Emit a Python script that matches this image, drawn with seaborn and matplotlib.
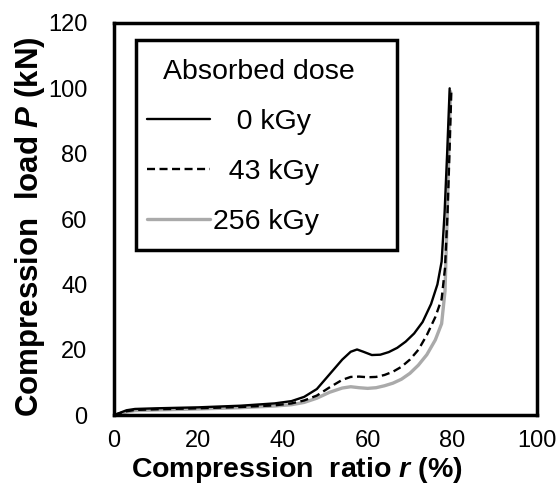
import numpy as np
import pandas as pd
import matplotlib
matplotlib.use('Agg')
import matplotlib.pyplot as plt
from matplotlib.patches import Rectangle
import seaborn as sns

## Data ##
# 0 kGy
r_0 = [0, 1, 3, 5, 10, 20, 30, 38, 42, 45, 48, 51, 54, 56, 57.5, 59, 61, 63, 65, 67,
       69, 71, 73, 75, 76.5, 77.5, 78.2, 78.8, 79.4]
p_0 = [0, 0.5, 1.5, 1.9, 2.1, 2.4, 2.9, 3.6, 4.3, 5.6, 8.0, 12.5, 17.0, 19.4, 20.1, 19.4,
       18.4, 18.5, 19.3, 20.6, 22.5, 25.0, 28.5, 34.0, 40.0, 47.0, 62.0, 80.0, 100.0]
# 43 kGy
r_43 = [0, 1, 3, 5, 10, 20, 30, 38, 42, 45, 48, 51, 54, 56, 58, 60, 62, 64, 66, 68,
        70, 72, 74, 76, 77.5, 78.3, 78.9, 79.4, 79.8]
p_43 = [0, 0.4, 1.2, 1.6, 1.8, 2.1, 2.5, 3.0, 3.6, 4.5, 6.0, 8.5, 10.8, 11.7, 11.8, 11.6,
        11.7, 12.3, 13.3, 14.8, 17.0, 20.0, 24.5, 30.0, 35.5, 45.0, 62.0, 82.0, 99.5]
# 256 kGy
r_256 = [0, 1, 3, 5, 10, 20, 30, 38, 42, 45, 48, 51, 54, 56, 58, 60, 62, 64, 66, 68,
         70, 72, 74, 76, 77.5, 78.3, 78.8, 79.2, 79.6]
p_256 = [0, 0.3, 1.0, 1.4, 1.6, 1.9, 2.3, 2.8, 3.2, 3.9, 5.2, 7.0, 8.3, 8.7, 8.4, 8.2,
         8.4, 9.0, 9.8, 11.0, 12.8, 15.3, 18.5, 23.0, 28.0, 38.0, 60.0, 82.0, 99.0]

# leading spaces right-align the numbers like the original
legend_labels = ['   0 kGy', '  43 kGy', '256 kGy']
x_ticks = [0, 20, 40, 60, 80, 100]
y_ticks = [0, 20, 40, 60, 80, 100, 120]

## Styling ##
sns.set_style('white')
plt.rcParams['font.family'] = ['Liberation Sans', 'DejaVu Sans']
plt.rcParams['text.color'] = 'black'
plt.rcParams['axes.labelcolor'] = 'black'
plt.rcParams['mathtext.fontset'] = 'custom'
plt.rcParams['mathtext.it'] = 'Liberation Sans:italic:bold'
plt.rcParams['mathtext.rm'] = 'Liberation Sans:bold'

fig = plt.figure(figsize=(5.58, 4.99), dpi=100)
ax = fig.add_axes([0.204, 0.168, 0.758, 0.786])

series = [(r_0, p_0, 'black', '-', 1.7),
          (r_43, p_43, 'black', (0, (3.4, 1.9)), 1.7),
          (r_256, p_256, '#aaaaaa', '-', 2.4)]

# draw grey first so black lines sit on top
for i in [2, 1, 0]:
    r, p, c, ls, lw = series[i]
    df = pd.DataFrame({'r': r, 'P': p})
    sns.lineplot(data=df, x='r', y='P', color=c, linestyle=ls, linewidth=lw,
                 ax=ax, label=legend_labels[i], sort=False)

ax.set(xlim=(0, 100), ylim=(0, 120))
ax.set_xticks(x_ticks)
ax.set_yticks(y_ticks)
ax.tick_params(axis='both', direction='in', length=5, width=2, labelsize=17,
               colors='black', top=False, right=False)
ax.tick_params(axis='x', pad=11)
ax.tick_params(axis='y', pad=19)
for s in ax.spines.values():
    s.set_color('black')
    s.set_linewidth(2.5)

ax.set_xlabel(r'Compression  ratio $r$ (%)', fontsize=20.5, fontweight='bold', labelpad=2)
ax.set_ylabel(r'Compression  load $P$ (kN)', fontsize=22.5, fontweight='bold', labelpad=1)
ax.xaxis.label.set_x(0.433)
ax.yaxis.label.set_y(0.48)

# legend box drawn separately so it can be as roomy as the original
ax.add_patch(Rectangle((0.052, 0.421), 0.617, 0.536, transform=ax.transAxes,
                       facecolor='white', edgecolor='black', linewidth=2.5, zorder=4))

handles, labels = ax.get_legend_handles_labels()
order = [labels.index(l) for l in legend_labels]
leg = ax.legend([handles[k] for k in order], [labels[k] for k in order],
                title='Absorbed dose', loc='upper left', mode='expand',
                bbox_to_anchor=(0.052, 0.3, 0.58, 0.636), borderaxespad=0,
                fontsize=20.5, title_fontsize=20.5, frameon=False,
                handlelength=2.2, handletextpad=0.1, labelspacing=0.84,
                borderpad=0.4)
leg.set_zorder(5)

fig.savefig('out.png', dpi=100)
